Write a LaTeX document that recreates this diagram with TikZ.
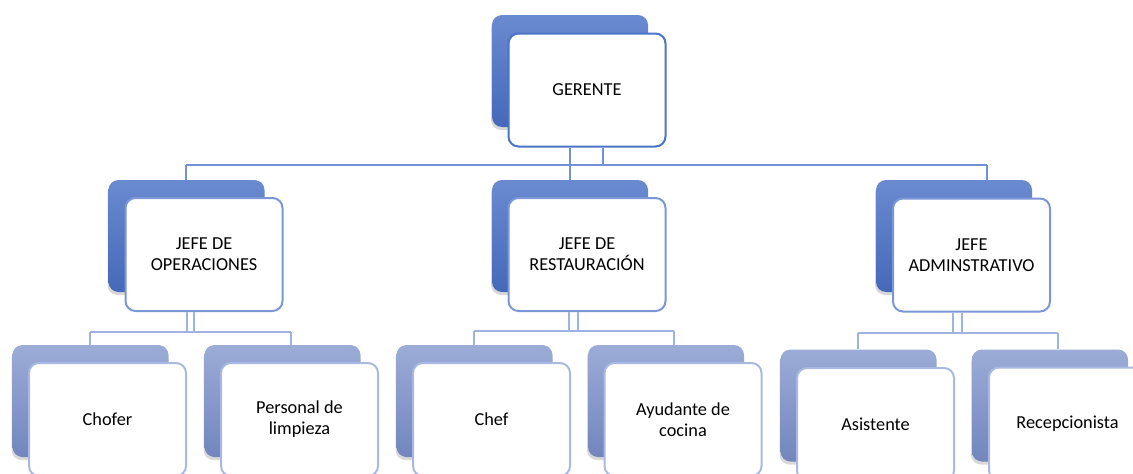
\documentclass[tikz,border=0pt]{standalone}
\usepackage{fontspec}
\setmainfont{Carlito}
\usetikzlibrary{shadows}
\definecolor{tbtop}{HTML}{6A8AD0}
\definecolor{tbbot}{HTML}{4569B9}
\definecolor{bbtop}{HTML}{9CACD7}
\definecolor{bbbot}{HTML}{7286BD}
\definecolor{bordA}{HTML}{4A74C6}
\definecolor{bordB}{HTML}{7B97D6}
\definecolor{bordC}{HTML}{AAB9E2}
\definecolor{lineA}{HTML}{7391D2}
\definecolor{lineB}{HTML}{A0B2E0}
\begin{document}
\begin{tikzpicture}[x=1pt,y=-1pt,
  every node/.style={font=\fontsize{18.3}{21}\selectfont, align=center, inner sep=0pt},
  backbox/.style={rounded corners=10pt, minimum width=156pt, minimum height=112pt,
     drop shadow={shadow xshift=-1pt, shadow yshift=-3pt, opacity=0.25, fill=black!60}},
  backtop/.style={backbox, top color=tbtop, bottom color=tbbot},
  backlow/.style={backbox, top color=bbtop, bottom color=bbbot},
  frontbox/.style={draw, fill=white, rounded corners=10pt, line width=2pt,
     minimum width=157pt, minimum height=113pt},
  fronttop/.style={frontbox, draw=bordA},
  frontmid/.style={frontbox, draw=bordB},
  frontlow/.style={frontbox, draw=bordC},
  linktop/.style={draw=lineA, line width=2.5pt},
  linklow/.style={draw=lineB, line width=2.5pt}]
\fill[white] (0,0) rectangle (1133,474);
\clip (0,0) rectangle (1133,474);

% bus coordinates
\coordinate (busL) at (186,165);
\coordinate (busR) at (987,165);
\coordinate (busM) at (570,165);
\coordinate (busM2) at (603,165);

% back boxes (upper)
\node[backtop] (gb) at (570,71) {};
\node[backtop] (opb) at (186.5,236) {};
\node[backtop] (reb) at (570,236) {};
\node[backtop] (adb) at (954,236) {};

% back boxes (lower)
\node[backlow] (chb) at (90.5,401) {};
\node[backlow] (plb) at (282.5,401) {};
\node[backlow] (cfb) at (474.5,401) {};
\node[backlow] (ayb) at (666,401) {};
\node[backlow] (asb) at (858.5,405.5) {};
\node[backlow] (rcb) at (1050,405.5) {};

% front boxes
\node[fronttop] (g) at (587,90) {GERENTE};
\node[frontmid] (op) at (204,254.5) {JEFE DE\\OPERACIONES};
\node[frontmid] (re) at (587,254.5) {JEFE DE\\RESTAURACIÓN};
\node[frontmid] (ad) at (971.5,255) {JEFE\\ADMINSTRATIVO};

\node[frontlow] (ch) at (107.5,419.5) {Chofer};
\node[frontlow] (pl) at (299.5,419.5) {Personal de\\limpieza};
\node[frontlow] (cf) at (491.5,419.5) {Chef};
\node[frontlow] (ay) at (683,419.5) {Ayudante de\\cocina};
\node[frontlow] (as) at (875.5,424.5) {Asistente};
\node[frontlow] (rc) at (1067.5,424) {Recepcionista};

% upper connectors
\draw[linktop] (g.south -| busM) -- (busM);
\draw[linktop] (g.south -| busM2) -- (busM2);
\draw[linktop] (busL) -- (busR);
\draw[linktop] (busL) -- (busL |- opb.north);
\draw[linktop] (busM) -- (busM |- reb.north);
\draw[linktop] (busR) -- (busR |- adb.north);

% lower connectors: operaciones
\coordinate (o1) at (187,332);
\coordinate (o2) at (194,332);
\coordinate (oL) at (90,332);
\coordinate (oR) at (291,332);
\draw[linklow] (op.south -| o1) -- (o1);
\draw[linklow] (op.south -| o2) -- (o2);
\draw[linklow] (oL) -- (oR);
\draw[linklow] (oL) -- (oL |- chb.north);
\draw[linklow] (oR) -- (oR |- plb.north);

% restauracion
\coordinate (r1) at (569,331);
\coordinate (r2) at (578,331);
\coordinate (rL) at (474,331);
\coordinate (rR) at (674,331);
\draw[linklow] (re.south -| r1) -- (r1);
\draw[linklow] (re.south -| r2) -- (r2);
\draw[linklow] (rL) -- (rR);
\draw[linklow] (rL) -- (rL |- cfb.north);
\draw[linklow] (rR) -- (rR |- ayb.north);

% administrativo
\coordinate (a1) at (953,333);
\coordinate (a2) at (962,333);
\coordinate (aL) at (858,333);
\coordinate (aR) at (1058,333);
\draw[linklow] (ad.south -| a1) -- (a1);
\draw[linklow] (ad.south -| a2) -- (a2);
\draw[linklow] (aL) -- (aR);
\draw[linklow] (aL) -- (aL |- asb.north);
\draw[linklow] (aR) -- (aR |- rcb.north);
\end{tikzpicture}
\end{document}
